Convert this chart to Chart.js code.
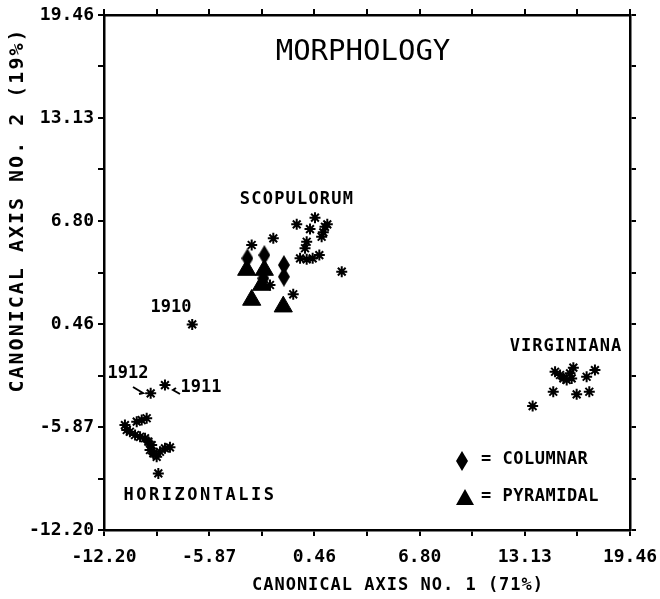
<!DOCTYPE html>
<html>
<head>
<meta charset="utf-8">
<title>Morphology</title>
<script src="https://cdn.jsdelivr.net/npm/chart.js@4.4.0/dist/chart.umd.min.js"></script>
<style>
    body { margin: 0; background: #fff; }
    #wrap { width: 660px; height: 599px; }
</style>
</head>
<body>
<div id="wrap"><canvas id="morph-chart" width="660" height="599"></canvas></div>
<script>
// axis tick labels (same range on both axes)
const xTickLabels = ['-12.20', '-5.87', '0.46', '6.80', '13.13', '19.46'];
const yTickLabels = ['-12.20', '-5.87', '0.46', '6.80', '13.13', '19.46'];

// canonical scores, [axis 1, axis 2]
const scopulorum = [
    [-0.60, 6.59], [0.50, 7.00], [0.20, 6.30], [1.10, 6.44], [0.90, 5.83],
    [-2.01, 5.73], [-3.31, 5.32], [0.00, 5.52], [-0.10, 5.12], [-0.40, 4.50],
    [0.00, 4.44], [0.36, 4.50], [0.76, 4.70], [2.11, 3.68], [-2.21, 2.86],
    [-0.81, 2.29], [1.24, 6.59], [1.00, 6.10]
];
const virginiana = [
    [14.95, -2.47], [15.25, -2.67], [15.65, -2.98], [15.95, -2.88], [16.05, -2.22],
    [15.45, -2.88], [16.85, -2.78], [17.35, -2.37], [14.84, -3.70], [16.25, -3.86],
    [17.01, -3.70], [13.60, -4.58], [15.85, -2.57]
];
const horizontalis = [
    [-10.23, -5.54], [-9.93, -5.44], [-9.63, -5.33], [-10.94, -5.75], [-10.83, -6.05],
    [-10.64, -6.16], [-10.33, -6.36], [-10.03, -6.47], [-9.73, -6.56], [-9.53, -6.77],
    [-9.33, -6.98], [-9.43, -7.28], [-9.23, -7.49], [-9.03, -7.70], [-8.83, -7.39],
    [-8.53, -7.18], [-8.23, -7.12], [-8.93, -8.72]
];
const yearNames = ['1910', '1911', '1912'];
const yearPoints = [[-6.89, 0.44], [-8.53, -3.29], [-9.39, -3.80]];
const pyramidal = [[-3.61, 3.78], [-2.55, 3.78], [-2.71, 2.86], [-3.31, 1.94], [-1.41, 1.53]];
const columnar = [[-3.57, 4.50], [-2.55, 4.70], [-1.37, 4.09], [-1.37, 3.37], [-2.61, 3.27]];

const toXY = arr => arr.map(p => ({ x: p[0], y: p[1] }));

// tall diamond marker
function diamondImage(w, h) {
    const c = document.createElement('canvas');
    c.width = w; c.height = h;
    const g = c.getContext('2d');
    g.fillStyle = '#000';
    g.beginPath();
    g.moveTo(w / 2, 0);
    g.lineTo(w, h / 2);
    g.lineTo(w / 2, h);
    g.lineTo(0, h / 2);
    g.closePath();
    g.fill();
    return c;
}
const diamond = diamondImage(12, 20);

// major ticks from labels, one minor tick between each pair
function tickValues(labels) {
    const major = labels.map(parseFloat);
    const vals = [];
    major.forEach((v, i) => {
        vals.push(v);
        if (i < major.length - 1) vals.push((v + major[i + 1]) / 2);
    });
    return vals;
}

const FONT = "'DejaVu Sans Mono', monospace";

function makeScale(position, labels, showLabels, size) {
    const vals = tickValues(labels);
    const major = labels.map(parseFloat);
    return {
        type: 'linear',
        position: position,
        min: major[0],
        max: major[major.length - 1],
        afterBuildTicks: scale => { scale.ticks = vals.map(v => ({ value: v })); },
        afterFit: scale => {
            if (position === 'left' || position === 'right') scale.width = size;
            else scale.height = size;
            // keep the plot box fixed, labels may overhang
            scale.paddingLeft = 0;
            scale.paddingRight = 0;
            scale.paddingTop = 0;
            scale.paddingBottom = 0;
        },
        border: { display: true, color: '#000', width: 2.5 },
        grid: { display: true, drawOnChartArea: false, drawTicks: true, tickLength: 6, color: '#000', lineWidth: 2 },
        ticks: {
            autoSkip: false,
            maxRotation: 0,
            color: '#000',
            padding: position === 'bottom' ? 11 : 4,
            font: { family: FONT, size: 18, weight: 'bold' },
            callback: function(value) {
                if (!showLabels) return '';
                const idx = major.findIndex(m => Math.abs(m - value) < 1e-6);
                return idx >= 0 ? labels[idx] : '';
            }
        }
    };
}

function drawText(ctx, str, x, y, font, spacing, align) {
    ctx.save();
    ctx.font = font;
    ctx.letterSpacing = (spacing || 0) + 'px';
    ctx.textAlign = align || 'center';
    ctx.textBaseline = 'middle';
    ctx.fillStyle = '#000';
    ctx.fillText(str, x, y);
    ctx.restore();
}

// titles, group names and legend keys
const annotations = {
    id: 'annotations',
    afterDraw(chart) {
        const ctx = chart.ctx;
        const bold = "bold 17px " + FONT;

        drawText(ctx, 'MORPHOLOGY', 363, 52, "29px " + FONT, 0);
        drawText(ctx, 'SCOPULORUM', 297, 200, bold, 1.2);
        drawText(ctx, 'VIRGINIANA', 566, 347, bold, 1);
        drawText(ctx, 'HORIZONTALIS', 200, 496, bold, 2.5);
        drawText(ctx, yearNames[0], 171, 308, bold, 0);
        drawText(ctx, yearNames[2], 128, 374, bold, 0);
        drawText(ctx, yearNames[1], 201, 388, bold, 0);

        // little pointers next to 1912 and 1911
        ctx.save();
        ctx.strokeStyle = '#000';
        ctx.lineWidth = 2;
        ctx.beginPath();
        ctx.moveTo(133, 387); ctx.lineTo(143, 393); ctx.lineTo(139, 394);
        ctx.moveTo(180, 394); ctx.lineTo(173, 390); ctx.lineTo(176, 388);
        ctx.stroke();
        ctx.restore();

        // legend
        ctx.drawImage(diamond, 462 - 6, 461 - 10);
        ctx.save();
        ctx.fillStyle = '#000';
        ctx.beginPath();
        ctx.moveTo(465, 489); ctx.lineTo(474, 505); ctx.lineTo(456, 505);
        ctx.closePath();
        ctx.fill();
        ctx.restore();
        drawText(ctx, '= COLUMNAR', 481, 460, bold, 0.5, 'left');
        drawText(ctx, '= PYRAMIDAL', 481, 497, bold, 0.5, 'left');

        // axis titles
        drawText(ctx, 'CANONICAL AXIS NO. 1 (71%)', 398, 586, "bold 17px " + FONT, 1);
        ctx.save();
        ctx.translate(18, 210);
        ctx.rotate(-Math.PI / 2);
        drawText(ctx, 'CANONICAL AXIS NO. 2 (19%)', 0, 0, "bold 20px " + FONT, 2);
        ctx.restore();
    }
};

const starSet = (data) => ({
    data: toXY(data),
    pointStyle: 'star',
    radius: 5.5,
    borderWidth: 2,
    borderColor: '#000',
    backgroundColor: '#000'
});

new Chart(document.getElementById('morph-chart'), {
    type: 'scatter',
    data: {
        datasets: [
            { label: 'Columnar', data: toXY(columnar), pointStyle: diamond, radius: 10 },
            { label: 'Pyramidal', data: toXY(pyramidal), pointStyle: 'triangle', radius: 10.5,
              backgroundColor: '#000', borderColor: '#000', borderWidth: 1 },
            Object.assign({ label: 'Scopulorum' }, starSet(scopulorum)),
            Object.assign({ label: 'Virginiana' }, starSet(virginiana)),
            Object.assign({ label: 'Horizontalis' }, starSet(horizontalis)),
            Object.assign({ label: 'Years' }, starSet(yearPoints))
        ]
    },
    options: {
        responsive: false,
        animation: false,
        events: [],
        layout: { padding: 0 },
        plugins: {
            legend: { display: false },
            tooltip: { enabled: false }
        },
        scales: {
            x: makeScale('bottom', xTickLabels, true, 69),
            x2: makeScale('top', xTickLabels, false, 15),
            y: makeScale('left', yTickLabels, true, 104),
            y2: makeScale('right', yTickLabels, false, 30)
        }
    },
    plugins: [annotations]
});
</script>
</body>
</html>
